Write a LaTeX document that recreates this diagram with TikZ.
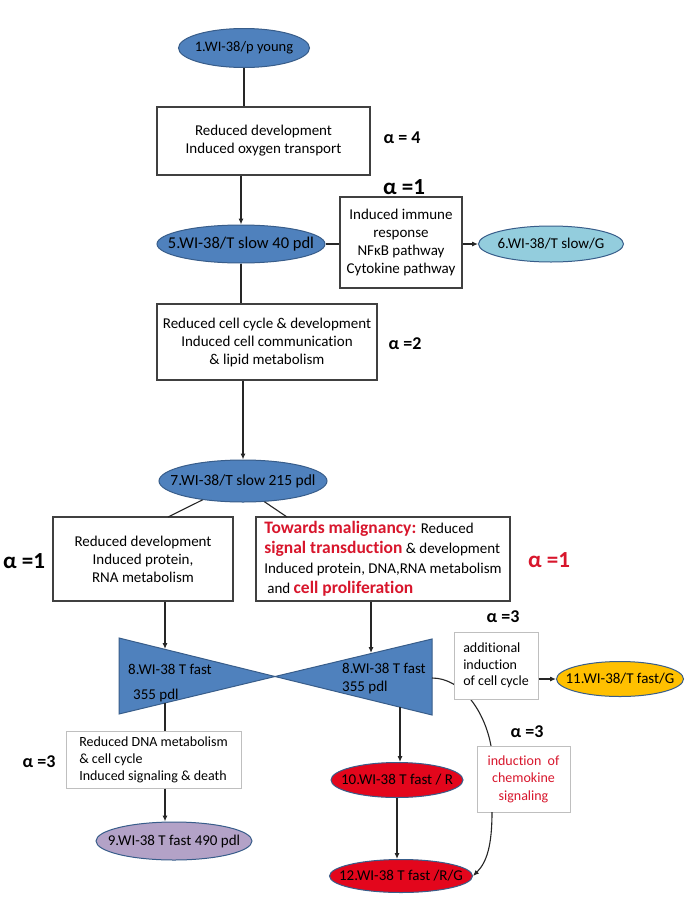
\documentclass[tikz,border=0pt]{standalone}
\usepackage{fontspec}
\setmainfont{Carlito}[Ligatures={NoCommon}]
\usetikzlibrary{shapes.geometric,arrows.meta}
\definecolor{cblue}{HTML}{4F81BD}
\definecolor{cblueline}{HTML}{385D8A}
\definecolor{clight}{HTML}{93CDDD}
\definecolor{cgold}{HTML}{FFC000}
\definecolor{cred}{HTML}{E3061C}
\definecolor{ctxt}{HTML}{D8162C}
\definecolor{cpurple}{HTML}{B3A2C7}
\definecolor{cbox}{HTML}{404040}
\definecolor{cboxlight}{HTML}{BFBFBF}
\newcommand\malig[1]{{\color{ctxt}\bfseries\fontsize{17.5}{20}\selectfont #1}}
\begin{document}
\begin{tikzpicture}[x=1pt,y=-1pt,
  cell/.style={ellipse, draw=cblueline, line width=1pt, inner sep=0pt},
  ctext/.style={font=\fontsize{15}{18}\selectfont, text=black},
  box/.style={draw=cbox, line width=1.1pt, fill=white, align=center, inner sep=0pt, font=\fontsize{15}{18}\selectfont},
  lbox/.style={draw=cboxlight, line width=1pt, fill=white, inner sep=0pt, font=\fontsize{14}{17}\selectfont},
  link/.style={draw=black!85, line width=1.1pt},
  arr/.style={link, -{Latex[length=6pt,width=5pt]}},
  alab/.style={font=\bfseries\fontsize{18}{20}\selectfont},
  alabbig/.style={font=\bfseries\fontsize{23}{26}\selectfont},
  tri/.style={fill=cblue, draw=cblueline, line width=1pt},
  trilab/.style={anchor=west, inner sep=0pt, font=\fontsize{15}{18}\selectfont}
]
\useasboundingbox (0,0) rectangle (685,913);
\fill[white] (0,0) rectangle (685,913);

% ellipses
\node[cell, fill=cblue, minimum width=131pt, minimum height=39pt,
  label={[ctext, font=\fontsize{14.5}{17}\selectfont]center:1.WI-38/p young}] (e1) at (244,48) {};
\node[cell, fill=cblue, minimum width=168pt, minimum height=38pt,
  label={[ctext, font=\fontsize{16.5}{19}\selectfont]center:5.WI-38/T slow 40 pdl}] (e5) at (241,244) {};
\node[cell, fill=clight, minimum width=145pt, minimum height=36pt,
  label={[ctext]center:6.WI-38/T slow/G}] (e6) at (551,244) {};
\node[cell, fill=cblue, minimum width=168pt, minimum height=42pt,
  label={[ctext, font=\fontsize{15.5}{18}\selectfont]center:7.WI-38/T slow 215 pdl}] (e7) at (243,481) {};
\node[cell, fill=cpurple, minimum width=156pt, minimum height=38pt,
  label={[ctext]center:9.WI-38 T fast 490 pdl}] (e9) at (174,841) {};
\node[cell, fill=cred, minimum width=132pt, minimum height=35pt,
  label={[ctext]center:10.WI-38 T fast / R}] (e10) at (397,780) {};
\node[cell, fill=cgold, minimum width=127pt, minimum height=35pt,
  label={[ctext]center:11.WI-38/T fast/G}] (e11) at (620,679) {};
\node[cell, fill=cred, minimum width=143pt, minimum height=33pt,
  label={[ctext]center:12.WI-38 T fast /R/G}] (e12) at (401,876) {};

% boxes
\node[box, minimum width=213pt, minimum height=68pt] (b1) at (263.5,141)
  {Reduced development\\Induced oxygen transport};
\node[box, minimum width=122pt, minimum height=91pt] (bimm) at (401,242.5)
  {Induced immune\\response\\NF\char"03BA B pathway\\Cytokine pathway};
\node[box, minimum width=220pt, minimum height=76pt] (b2) at (267,342)
  {Reduced cell cycle \& development\\Induced cell communication\\\& lipid metabolism};
\node[box, minimum width=180pt, minimum height=84pt] (b3) at (143,559)
  {Reduced development\\Induced protein,\\RNA metabolism};
\node[box, align=left, minimum width=254pt, minimum height=84pt, font=\fontsize{15}{20}\selectfont] (b4) at (383,559)
  {\malig{Towards malignancy:} Reduced\\\malig{signal transduction} \& development\\Induced protein, DNA,RNA metabolism\\\hspace*{3pt}and \malig{cell proliferation}};

% bow-tie triangles
\filldraw[tri] (119,638) -- (275,676.5) -- (119,714) -- cycle;
\filldraw[tri] (432,639) -- (275,676.5) -- (432,715) -- cycle;
\coordinate (t1top) at (165,649);
\coordinate (t1bot) at (165,703);
\coordinate (t2top) at (371,653);
\coordinate (t2bot) at (400,707);
\coordinate (t2e) at (432,678);
\node[trilab] (l8a) at (128,669) {8.WI-38 T fast};
\node[trilab] (l8b) at (133,695) {355 pdl};
\node[trilab] (r8a) at (342,668) {8.WI-38 T fast};
\node[trilab] (r8b) at (342,687) {355 pdl};

% curve behind "additional" box
\coordinate (chemtop) at (491,746);
\draw[link] (t2e) .. controls (462,678) and (485,712) .. (chemtop);

\node[lbox, align=left, minimum width=84pt, minimum height=67pt, font=\fontsize{14}{16.5}\selectfont] (badd) at (496,665.5)
  {additional\\induction\\of cell cycle};
\node[lbox, align=center, minimum width=93pt, minimum height=66pt, text=ctxt, font=\fontsize{14}{17.5}\selectfont] (bchem) at (523.5,779)
  {induction\ \ of\\chemokine\\signaling};
\node[lbox, align=left, minimum width=175pt, minimum height=57pt] (b5) at (153.5,759.5)
  {Reduced DNA metabolism\\\& cell cycle\\Induced signaling \& death};

% alpha labels
\node[alab] (a4) at (402,138) {α = 4};
\node[alabbig] (a1a) at (404,187) {α =1};
\node[alab] (a2) at (405,344) {α =2};
\node[alabbig] (a1b) at (24,561) {α =1};
\node[alabbig, text=ctxt] (a1c) at (549,560) {α =1};
\node[alab] (a3a) at (503,617) {α =3};
\node[alab] (a3b) at (39,762) {α =3};
\node[alab] (a3c) at (527,732) {α =3};

% connectors
\draw[link] (e1.south) -- (e1.south |- b1.north);
\draw[arr] (e5.north |- b1.south) -- (e5.north);
\draw[link] (e5.east) -- (e5.east -| bimm.west);
\draw[arr] (bimm.east |- e6.west) -- (e6.west);
\draw[link] (e5.south) -- (e5.south |- b2.north);
\draw[arr] (e7.north |- b2.south) -- (e7.north);
\coordinate (b3t) at (168,517);
\coordinate (b4t) at (287,517);
\draw[link] (e7.-155) -- (b3t);
\draw[link] (e7.-44) -- (b4t);
\draw[arr] (b3.south -| t1top) -- (t1top);
\draw[arr] (b4.south -| t2top) -- (t2top);
\draw[link] (t1bot) -- (t1bot |- b5.north);
\draw[arr] (b5.south -| t1bot) -- (t1bot |- e9.north);
\draw[arr] (t2bot) -- (t2bot |- e10.north);
\draw[arr] (e10.south) -- (e10.south |- e12.north);
\draw[arr] (badd.east |- e11.west) -- (e11.west);
\coordinate (chembot) at (492,812);
\draw[arr] (chembot) .. controls (492,845) and (487,862) .. (e12.east);
\end{tikzpicture}
\end{document}
